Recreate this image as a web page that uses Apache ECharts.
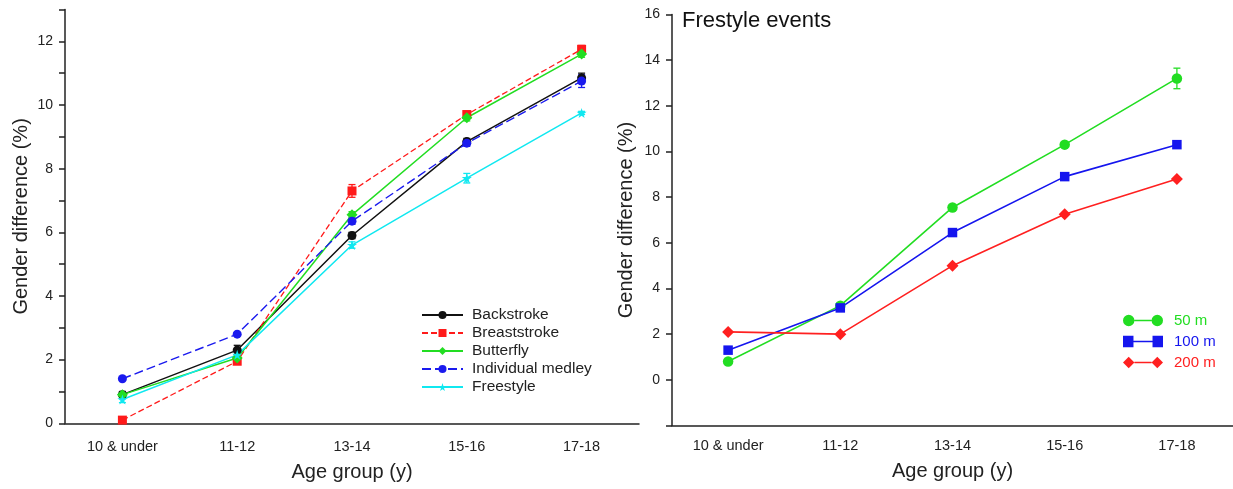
<!DOCTYPE html>
<html>
<head>
<meta charset="utf-8">
<script src="https://cdn.jsdelivr.net/npm/echarts@6/dist/echarts.min.js"></script>
<style>
html,body{margin:0;padding:0;background:#fff;}
#chart{width:1233px;height:489px;}
</style>
</head>
<body>
<div id="chart"></div>
<script>
// ---- data ----
const categories = ['10 & under', '11-12', '13-14', '15-16', '17-18'];

// left panel: all strokes
const backstroke = [0.9, 2.3, 5.9, 8.85, 10.85];
const backstrokeErr = [0.1, 0.15, 0.1, 0.1, 0.15];
const breaststroke = [0.1, 1.95, 7.3, 9.7, 11.75];
const breaststrokeErr = [0.05, 0.05, 0.2, 0.1, 0.12];
const butterfly = [0.9, 2.05, 6.55, 9.6, 11.6];
const butterflyErr = [0.05, 0.05, 0.1, 0.1, 0.1];
const medley = [1.4, 2.8, 6.35, 8.8, 10.75];
const medleyErr = [0.05, 0.05, 0.1, 0.1, 0.2];
const freestyle = [0.75, 2.15, 5.6, 7.7, 9.75];
const freestyleErr = [0.1, 0.1, 0.1, 0.15, 0.05];

// right panel: freestyle events
const free50 = [0.8, 3.25, 7.55, 10.3, 13.2];
const free50Err = [0.1, 0.1, 0.1, 0.1, 0.45];
const free100 = [1.3, 3.15, 6.45, 8.9, 10.3];
const free100Err = [0.05, 0.1, 0.1, 0.1, 0.12];
const free200 = [2.1, 2.0, 5.0, 7.25, 8.8];
const free200Err = [0.05, 0.05, 0.05, 0.05, 0.05];

const leftTicks = [0, 2, 4, 6, 8, 10, 12];
const rightTicks = [0, 2, 4, 6, 8, 10, 12, 14, 16];

// ---- styling ----
const FONT = 'Liberation Sans, Arial, sans-serif';
const AXIS_COLOR = '#222';
const starPath = 'path://M50,0 L61,35 L98,35 L68,57 L79,91 L50,70 L21,91 L32,57 L2,35 L39,35 Z';
const pairCircle = 'path://M0,6 A6,6 0 1,1 12,6 A6,6 0 1,1 0,6 Z M12,5.2 L30,5.2 L30,6.8 L12,6.8 Z M30,6 A6,6 0 1,1 42,6 A6,6 0 1,1 30,6 Z';
const pairSquare = 'path://M0,0 L11,0 L11,12 L0,12 Z M11,5.2 L31,5.2 L31,6.8 L11,6.8 Z M31,0 L42,0 L42,12 L31,12 Z';
const pairDiamond = 'path://M0,6 L6,0 L12,6 L6,12 Z M12,5.2 L30,5.2 L30,6.8 L12,6.8 Z M30,6 L36,0 L42,6 L36,12 Z';

function errSeries(name, vals, errs, color, xi, yi) {
  return {
    type: 'custom',
    name: name + ' err',
    xAxisIndex: xi, yAxisIndex: yi,
    silent: true,
    z: 3,
    data: vals.map((v, i) => [i, v, errs[i]]),
    renderItem: function (params, api) {
      const x = api.value(0), v = api.value(1), e = api.value(2);
      const top = api.coord([x, v + e]);
      const bot = api.coord([x, v - e]);
      const w = 3.5;
      return {
        type: 'group',
        children: [
          {type: 'line', shape: {x1: top[0], y1: top[1], x2: bot[0], y2: bot[1]}, style: {stroke: color, lineWidth: 1.3}},
          {type: 'line', shape: {x1: top[0] - w, y1: top[1], x2: top[0] + w, y2: top[1]}, style: {stroke: color, lineWidth: 1.3}},
          {type: 'line', shape: {x1: bot[0] - w, y1: bot[1], x2: bot[0] + w, y2: bot[1]}, style: {stroke: color, lineWidth: 1.3}}
        ]
      };
    }
  };
}

function lineSeries(name, vals, color, symbol, size, dash, xi, yi, width) {
  return {
    type: 'line',
    name: name,
    xAxisIndex: xi, yAxisIndex: yi,
    data: vals,
    symbol: symbol,
    symbolSize: size,
    showAllSymbol: true,
    z: 4,
    itemStyle: {color: color},
    lineStyle: {color: color, width: width, type: dash || 'solid'},
    emphasis: {disabled: true}
  };
}

function xAxisCfg(gi, gap, margin) {
  return {
    type: 'category', gridIndex: gi, data: categories, boundaryGap: true,
    name: 'Age group (y)', nameLocation: 'middle', nameGap: gap,
    nameTextStyle: {fontFamily: FONT, fontSize: 20, color: '#222'},
    axisLine: {onZero: false, lineStyle: {color: AXIS_COLOR, width: 1.5}},
    axisTick: {alignWithLabel: true, length: 6, lineStyle: {color: AXIS_COLOR, width: 1.5}},
    axisLabel: {fontFamily: FONT, fontSize: 14.5, color: '#222', margin: margin},
    splitLine: {show: false}
  };
}

const option = {
  animation: false,
  backgroundColor: '#fff',
  title: {
    text: 'Frestyle events', left: 682, top: 10, padding: 0,
    textStyle: {fontFamily: FONT, fontSize: 22, fontWeight: 'normal', color: '#111'}
  },
  grid: [
    {left: 65, top: 9.5, width: 574, height: 413.8},
    {left: 672, top: 14.5, width: 569, height: 411}
  ],
  legend: [
    {
      orient: 'vertical', left: 421, top: 307, padding: 0,
      itemWidth: 41, itemHeight: 10, itemGap: 2,
      textStyle: {fontFamily: FONT, fontSize: 15.5, lineHeight: 16, color: '#222', padding: [0, 0, 0, 4]},
      data: ['Backstroke', 'Breaststroke', 'Butterfly', 'Individual medley', 'Freestyle']
    },
    {
      orient: 'vertical', left: 1123, top: 312, padding: 0,
      itemWidth: 40, itemHeight: 12, itemGap: 4,
      textStyle: {fontFamily: FONT, fontSize: 15, lineHeight: 17, padding: [0, 0, 0, 6]},
      data: [
        {name: '50 m', icon: pairCircle, textStyle: {color: '#22dd22'}},
        {name: '100 m', icon: pairSquare, textStyle: {color: '#1515ee'}},
        {name: '200 m', icon: pairDiamond, textStyle: {color: '#ff2020'}}
      ]
    }
  ],
  xAxis: [xAxisCfg(0, 39, 16), xAxisCfg(1, 36, 13)],
  yAxis: [
    {
      type: 'value', gridIndex: 0, min: 0, max: 13, interval: 1,
      name: 'Gender difference (%)', nameLocation: 'middle', nameGap: 33.5,
      nameTextStyle: {fontFamily: FONT, fontSize: 20, color: '#222'},
      axisLine: {show: true, lineStyle: {color: AXIS_COLOR, width: 1.5}},
      axisTick: {show: true, length: 6, lineStyle: {color: AXIS_COLOR, width: 1.5}},
      axisLabel: {fontFamily: FONT, fontSize: 14, color: '#222', margin: 12,
        formatter: v => leftTicks.indexOf(v) >= 0 ? String(v) : ''},
      splitLine: {show: false}
    },
    {
      type: 'value', gridIndex: 1, min: -2, max: 16, interval: 2,
      name: 'Gender difference (%)', nameLocation: 'middle', nameGap: 35.5,
      nameTextStyle: {fontFamily: FONT, fontSize: 20, color: '#222'},
      axisLine: {show: true, lineStyle: {color: AXIS_COLOR, width: 1.5}},
      axisTick: {show: true, length: 6, lineStyle: {color: AXIS_COLOR, width: 1.5}},
      axisLabel: {fontFamily: FONT, fontSize: 14, color: '#222', margin: 12,
        formatter: v => rightTicks.indexOf(v) >= 0 ? String(v) : ''},
      splitLine: {show: false}
    }
  ],
  series: [
    errSeries('Backstroke', backstroke, backstrokeErr, '#111', 0, 0),
    errSeries('Breaststroke', breaststroke, breaststrokeErr, '#ff1a1a', 0, 0),
    errSeries('Butterfly', butterfly, butterflyErr, '#22dd22', 0, 0),
    errSeries('Individual medley', medley, medleyErr, '#1a1aee', 0, 0),
    errSeries('Freestyle', freestyle, freestyleErr, '#10e8f0', 0, 0),
    lineSeries('Backstroke', backstroke, '#111', 'circle', 9, null, 0, 0, 1.5),
    lineSeries('Breaststroke', breaststroke, '#ff1a1a', 'rect', 9, [6, 3], 0, 0, 1.3),
    lineSeries('Butterfly', butterfly, '#22dd22', 'diamond', 11, null, 0, 0, 1.5),
    lineSeries('Individual medley', medley, '#1a1aee', 'circle', 9, [9, 4], 0, 0, 1.4),
    lineSeries('Freestyle', freestyle, '#10e8f0', starPath, 10, null, 0, 0, 1.5),

    errSeries('50 m', free50, free50Err, '#22dd22', 1, 1),
    errSeries('100 m', free100, free100Err, '#1515ee', 1, 1),
    errSeries('200 m', free200, free200Err, '#ff2020', 1, 1),
    lineSeries('50 m', free50, '#22dd22', 'circle', 10.5, null, 1, 1, 1.6),
    lineSeries('100 m', free100, '#1515ee', 'rect', 9.5, null, 1, 1, 1.6),
    lineSeries('200 m', free200, '#ff2020', 'diamond', 12, null, 1, 1, 1.6)
  ]
};

const chart = echarts.init(document.getElementById('chart'), null, {renderer: 'canvas'});
chart.setOption(option);
</script>
</body>
</html>
